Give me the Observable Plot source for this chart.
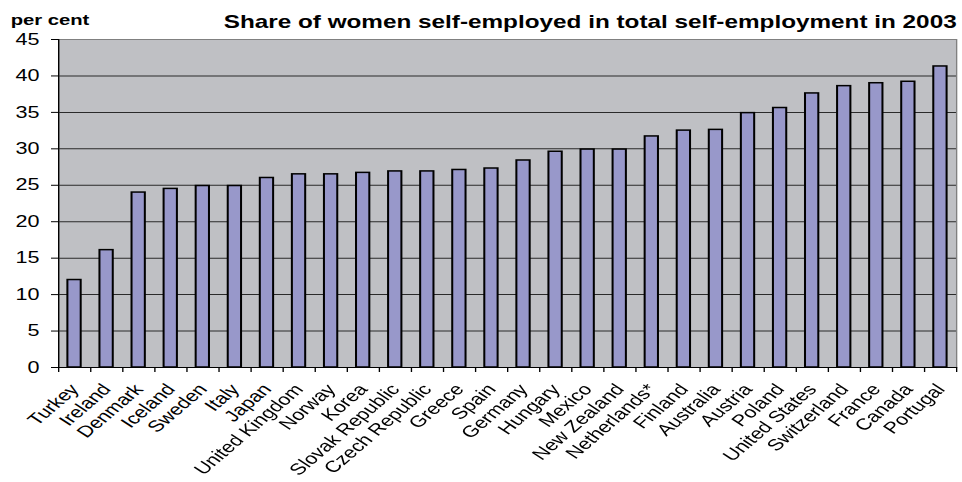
<!DOCTYPE html>
<html><head><meta charset="utf-8">
<script src="https://cdn.jsdelivr.net/npm/d3@7"></script>
<script src="https://cdn.jsdelivr.net/npm/@observablehq/plot@0.6"></script>
<style>
html,body{margin:0;padding:0;background:#fff;}
#wrap{transform-origin:0 0;}
</style></head><body><div id="wrap"></div>
<script>
const countries = ["Turkey","Ireland","Denmark","Iceland","Sweden","Italy","Japan","United Kingdom","Norway","Korea","Slovak Republic","Czech Republic","Greece","Spain","Germany","Hungary","Mexico","New Zealand","Netherlands*","Finland","Australia","Austria","Poland","United States","Switzerland","France","Canada","Portugal"];
const shares = [12.0,16.1,24.0,24.5,24.9,24.9,26.0,26.5,26.5,26.7,26.9,26.9,27.1,27.3,28.4,29.6,29.9,29.9,31.7,32.5,32.6,34.9,35.6,37.6,38.6,39.0,39.2,41.3];
const yTicks = [0,5,10,15,20,25,30,35,40,45];
const title = "Share of women self-employed in total self-employment in 2003";
const yLabel = "per cent";

// the reference is horizontally stretched; draw narrower and stretch the whole chart
const K = 1.35;
const W = 962 / K;
const mL = 58 / K, mR = 6 / K;
const step = (W - mL - mR) / countries.length;
const data = countries.map((c, i) => ({country: c, share: shares[i]}));

const wrap = document.getElementById("wrap");
wrap.style.width = W + "px";
wrap.style.transform = `scaleX(${K})`;

const chart = Plot.plot({
  width: W, height: 482,
  marginLeft: mL, marginRight: mR, marginTop: 39, marginBottom: 115,
  style: {fontFamily: "'Liberation Sans', Arial, sans-serif", background: "#fff", color: "#000", overflow: "visible"},
  x: {domain: countries, paddingInner: 0.585, paddingOuter: 0.2925, round: false, label: null},
  y: {domain: [0, 45], ticks: yTicks, label: null},
  marks: [
    Plot.frame({fill: "#BFC0C4", stroke: "none"}),
    Plot.gridY(yTicks, {stroke: "#2a2a2a", strokeOpacity: 1}),
    Plot.barY(data, {x: "country", y: "share", fill: "#9898CA", stroke: "#000", strokeWidth: 1.5}),
    Plot.frame({stroke: "#808080", fill: "none"}),
    Plot.ruleY([0], {stroke: "#000"}),
    Plot.ruleX([countries[0]], {x: d => d, dx: -step / 2, stroke: "#000"}),
    Plot.ruleX(countries, {x: d => d, dx: -step / 2, y1: 0, y2: 0, insetBottom: -5, stroke: "#000"}),
    Plot.ruleX([countries[countries.length - 1]], {x: d => d, dx: step / 2, y1: 0, y2: 0, insetBottom: -5, stroke: "#000"}),
    Plot.axisY(yTicks, {tickSize: 5.2, tickPadding: 9, fontSize: 16, label: null}),
    Plot.axisX({tickSize: 0, tickPadding: 19, tickRotate: -49, fontSize: 16, dx: 0, label: null}),
    Plot.text([title], {frameAnchor: "top-right", dy: -24.5, fontSize: 18, fontWeight: "bold", textAnchor: "end"}),
    Plot.text([yLabel], {frameAnchor: "top-left", dx: -(mL - 10 / K), dy: -25.5, textAnchor: "start", fontSize: 15, fontWeight: "bold"})
  ]
});
wrap.appendChild(chart);
</script>
</body></html>
